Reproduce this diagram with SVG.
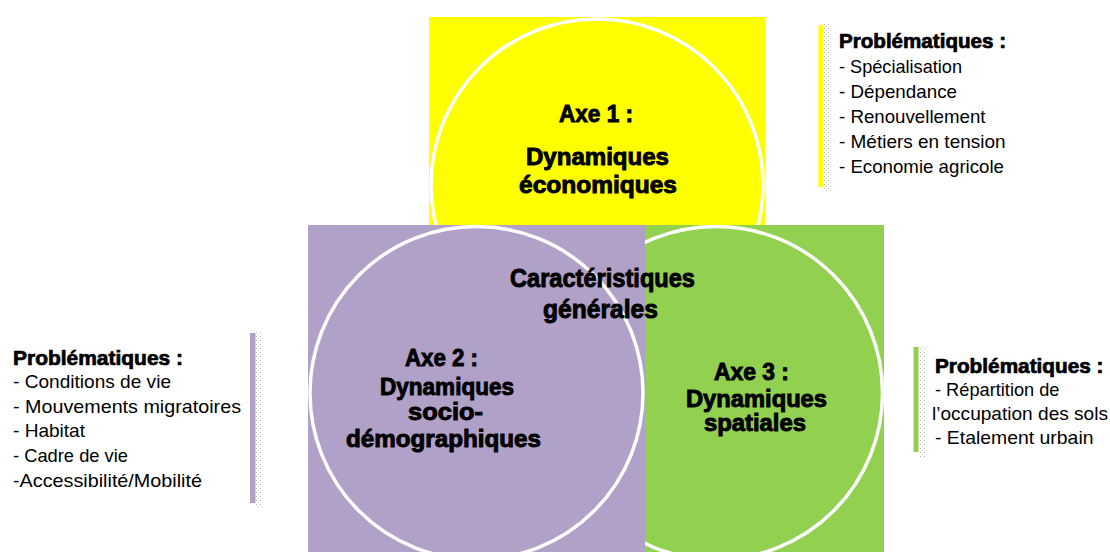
<svg xmlns="http://www.w3.org/2000/svg" width="1110" height="552" viewBox="0 0 1110 552">
<defs>
<pattern id="dots" width="4" height="4" patternUnits="userSpaceOnUse">
<rect x="0" y="0" width="1" height="1" fill="#b8b8b8"/>
<rect x="2" y="2" width="1" height="1" fill="#cfcfcf"/>
</pattern>
<style>
.circ{fill:none;stroke:#fff;stroke-width:3.5}
.title{font-family:"Liberation Sans",Arial,sans-serif;font-weight:bold;font-size:23px;fill:#000;stroke:#000;stroke-width:0.9}
.big{font-size:25px}
.ph{font-family:"Liberation Sans",Arial,sans-serif;font-weight:bold;font-size:20px;fill:#000;stroke:#000;stroke-width:0.7}
.li{font-family:"Liberation Sans",Arial,sans-serif;font-size:19px;fill:#000}
.dot{fill:url(#dots)}
</style>
</defs>
<rect width="1110" height="552" fill="#fff"/>

<g id="axe1">
<rect x="429" y="17" width="336" height="336" fill="#FFFF00"/>
<circle class="circ" cx="597" cy="185" r="166"/>
<text class="title" x="559" y="122" textLength="74" lengthAdjust="spacingAndGlyphs">Axe 1 :</text>
<text class="title" x="526" y="165" textLength="143" lengthAdjust="spacingAndGlyphs">Dynamiques</text>
<text class="title" x="519" y="193" textLength="158" lengthAdjust="spacingAndGlyphs">économiques</text>
</g>

<g id="axe3">
<rect x="548" y="225" width="336" height="336" fill="#92D050"/>
<circle class="circ" cx="716" cy="393" r="166.5"/>
</g>

<g id="axe2">
<rect x="308" y="225" width="337" height="336" fill="#B1A0C7"/>
<circle class="circ" cx="476.5" cy="393" r="166.5"/>
<text class="title" x="405" y="366" textLength="73" lengthAdjust="spacingAndGlyphs">Axe 2 :</text>
<text class="title" x="380" y="395" textLength="134" lengthAdjust="spacingAndGlyphs">Dynamiques</text>
<text class="title" x="408" y="420" textLength="75" lengthAdjust="spacingAndGlyphs">socio-</text>
<text class="title" x="346" y="447" textLength="195" lengthAdjust="spacingAndGlyphs">démographiques</text>
</g>

<g id="axe3-label">
<text class="title" x="714" y="380" textLength="75" lengthAdjust="spacingAndGlyphs">Axe 3 :</text>
<text class="title" x="686" y="407" textLength="141" lengthAdjust="spacingAndGlyphs">Dynamiques</text>
<text class="title" x="704" y="431" textLength="102" lengthAdjust="spacingAndGlyphs">spatiales</text>
</g>

<g id="caracteristiques">
<text class="title big" x="510" y="287" textLength="185" lengthAdjust="spacingAndGlyphs">Caractéristiques</text>
<text class="title big" x="543" y="318" textLength="115" lengthAdjust="spacingAndGlyphs">générales</text>
</g>

<g id="prob-axe1">
<rect x="818.5" y="25" width="5" height="162" fill="#FFFF00"/>
<rect class="dot" x="823.5" y="24" width="8" height="168"/>
<text class="ph" x="839" y="48" textLength="167" lengthAdjust="spacingAndGlyphs">Problématiques :</text>
<text class="li" x="839" y="73" textLength="123" lengthAdjust="spacingAndGlyphs">- Spécialisation</text>
<text class="li" x="839" y="98" textLength="118" lengthAdjust="spacingAndGlyphs">- Dépendance</text>
<text class="li" x="839" y="123" textLength="146.5" lengthAdjust="spacingAndGlyphs">- Renouvellement</text>
<text class="li" x="839" y="148" textLength="166.5" lengthAdjust="spacingAndGlyphs">- Métiers en tension</text>
<text class="li" x="839" y="173" textLength="165" lengthAdjust="spacingAndGlyphs">- Economie agricole</text>
</g>

<g id="prob-axe2">
<rect x="250" y="333" width="5.5" height="170" fill="#B1A0C7"/>
<rect class="dot" x="255.5" y="332" width="7" height="175"/>
<text class="ph" x="13" y="365" textLength="170" lengthAdjust="spacingAndGlyphs">Problématiques :</text>
<text class="li" x="13" y="388" textLength="158" lengthAdjust="spacingAndGlyphs">- Conditions de vie</text>
<text class="li" x="13" y="413" textLength="228" lengthAdjust="spacingAndGlyphs">- Mouvements migratoires</text>
<text class="li" x="13" y="437" textLength="72" lengthAdjust="spacingAndGlyphs">- Habitat</text>
<text class="li" x="13" y="462" textLength="115" lengthAdjust="spacingAndGlyphs">- Cadre de vie</text>
<text class="li" x="13" y="487" textLength="189" lengthAdjust="spacingAndGlyphs">-Accessibilité/Mobilité</text>
</g>

<g id="prob-axe3">
<rect x="913.5" y="347" width="5" height="105" fill="#92D050"/>
<rect class="dot" x="918.5" y="346" width="8" height="111"/>
<text class="ph" x="935" y="373" textLength="168.5" lengthAdjust="spacingAndGlyphs">Problématiques :</text>
<text class="li" x="935" y="396" textLength="124.5" lengthAdjust="spacingAndGlyphs">- Répartition de</text>
<text class="li" x="932" y="420" textLength="176" lengthAdjust="spacingAndGlyphs">l’occupation des sols</text>
<text class="li" x="935" y="444" textLength="158.5" lengthAdjust="spacingAndGlyphs">- Etalement urbain</text>
</g>

<g id="connectors"/>
</svg>
